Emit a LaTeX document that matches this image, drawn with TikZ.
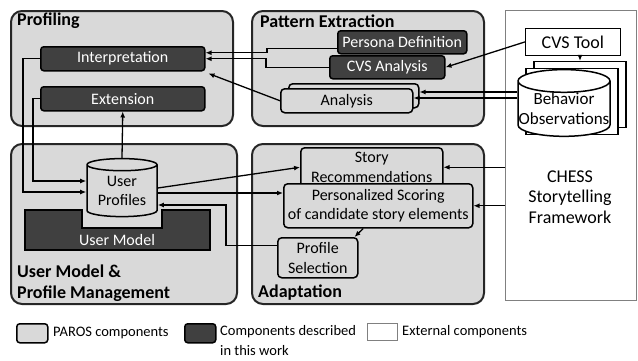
\documentclass[tikz,border=0pt]{standalone}
\usepackage{fontspec}
\setmainfont{Carlito}
\usetikzlibrary{shapes.geometric,arrows.meta,positioning}
\definecolor{panelgray}{RGB}{217,217,217}
\definecolor{darkbox}{RGB}{64,64,64}
\definecolor{extgray}{RGB}{128,128,128}

\begin{document}
\begin{tikzpicture}[x=1pt, y=-1pt,
  font=\fontsize{16}{19.5}\selectfont,
  panel/.style={draw=black!85, line width=2pt, fill=panelgray, rounded corners=11pt, anchor=north west, inner sep=0pt},
  ttl/.style={font=\fontsize{18}{21}\selectfont\bfseries, anchor=west, inner sep=0pt, align=left},
  dbox/.style={draw=black, line width=1.5pt, fill=darkbox, text=white, rounded corners=3pt, anchor=north west, inner sep=0pt},
  lbox/.style={draw=black, line width=1.5pt, fill=panelgray, rounded corners=4pt, anchor=north west, inner sep=0pt, align=center},
  ebox/.style={draw=extgray, line width=0.8pt, fill=white, anchor=north west, inner sep=0pt},
  store/.style={cylinder, shape border rotate=90, draw=black, line width=1.5pt, aspect=0.25, inner sep=0pt, align=center},
  lgd/.style={font=\fontsize{14.5}{20}\selectfont, anchor=west, inner sep=0pt, align=left},
  arr/.style={-{Latex[length=6pt,width=5pt]}, line width=1.3pt}
]
\useasboundingbox (0,0) rectangle (638,360);

%--- Panels ---
\node[panel, minimum width=222pt, minimum height=115pt] (prof) at (10,10) {};
\node[panel, minimum width=232pt, minimum height=115pt] (patt) at (251,10) {};
\node[panel, minimum width=226pt, minimum height=160pt] (umpm) at (10,143) {};
\node[panel, minimum width=232pt, minimum height=160pt] (adap) at (251,143) {};
\node[ebox, minimum width=131pt, minimum height=290pt] (chess) at (505,10) {};
\node[ttl] at (17,21) {Profiling};
\node[ttl] at (260,21) {Pattern Extraction};
\node[ttl] at (17,283) {User Model \&\\Profile Management};
\node[ttl] at (258,293) {Adaptation};
\node[font=\fontsize{18}{20.5}\selectfont, align=center] at (570,197) {CHESS\\Storytelling\\Framework};

%--- Profiling ---
\node[dbox, minimum width=164pt, minimum height=24pt] (interp) at (40,46) {Interpretation};
\node[dbox, minimum width=164pt, minimum height=24pt] (ext) at (40,86) {Extension};

%--- Pattern Extraction ---
\node[dbox, minimum width=129pt, minimum height=23pt] (persona) at (337,30) {Persona Definition};
\node[dbox, minimum width=115pt, minimum height=23pt] (cvsan) at (329,55) {CVS Analysis};
\node[lbox, minimum width=130pt, minimum height=24pt] (ana2) at (288,83) {};
\node[lbox, minimum width=132pt, minimum height=24pt] (ana) at (280,88) {Analysis};

%--- External ---
\node[ebox, draw=black, minimum width=95pt, minimum height=27pt, font=\fontsize{18}{20}\selectfont] (cvstool) at (525,28) {CVS Tool};
\node[store, fill=white, minimum width=92pt, minimum height=66pt] (obs3) at (580,95) {};
\node[store, fill=white, minimum width=92pt, minimum height=66pt] (obs2) at (572,102) {};
\node[store, fill=white, minimum width=92pt, minimum height=66pt, font=\fontsize{17}{20}\selectfont] (obs) at (564,109) {Behavior\\Observations};

%--- User Model & Profile Management ---
\draw[fill=darkbox, line width=1.5pt] (25,210) -- (82,210) -- (82,228) -- (162,228) -- (162,210) -- (210,210) -- (210,250) -- (25,250) -- cycle;
\node[text=white] (umodel) at (117,240) {User Model};
\node[store, fill=panelgray, minimum width=70pt, minimum height=58pt] (profiles) at (122,191) {User\\Profiles};

%--- Adaptation ---
\node[lbox, minimum width=142pt, minimum height=39pt] (story) at (300,147) {Story\\Recommendations};
\node[lbox, minimum width=189pt, minimum height=44pt] (scoring) at (283,183) {Personalized Scoring\\of candidate story elements};
\node[lbox, minimum width=80pt, minimum height=40pt] (psel) at (277,237) {Profile\\Selection};

%--- Connectors ---
\draw[arr] ([yshift=-6pt]persona.west) -- ++(-70,0) |- ([yshift=6pt]interp.east);
\draw[arr] (cvsan.west) -- ++(-63,0) |- (interp.east);
\draw[arr] (ana.west) -- ([xshift=3pt,yshift=-2pt]interp.south east);
\draw[arr] (cvstool.west) -- (cvsan.east);
\draw[arr] (cvstool.south -| obs3.north) -- (obs3.north);
\draw[arr] ([yshift=17pt]obs.west) -- ([yshift=17pt]obs.west -| ana2.east);
\draw[arr] ([yshift=11pt]obs.west) -- ([yshift=11pt]obs.west -| ana.east);
\draw[arr] (interp.west) -- ++(-17,0) |- ([yshift=-1pt]profiles.west);
\draw[arr] (ext.west) -- ++(-7,0) |- ([yshift=10pt]profiles.west);
\draw[arr] (profiles.north) -- (ext.south);
\draw[arr] ([yshift=3pt]profiles.east) -- (story.west);
\draw[arr] ([yshift=-2pt]profiles.east) -- ([yshift=-2pt]profiles.east -| scoring.west);
\draw[arr] ([yshift=12pt]psel.west) -- ++(-51,0) |- ([yshift=-14pt]profiles.east);
\draw[arr] ([xshift=-15pt]scoring.south) -- ([xshift=-4pt]psel.north east);
\draw[arr] (chess.west |- story.east) -- (story.east);
\draw[arr] (chess.west |- scoring.east) -- (scoring.east);

%--- Legend ---
\node[lbox, minimum width=31pt, minimum height=19pt, rounded corners=3pt] (lg1) at (16,323) {};
\node[lgd] at (53,333) {PAROS components};
\node[dbox, minimum width=31pt, minimum height=19pt] (lg2) at (184,323) {};
\node[lgd, anchor=north west] at (220,325) {Components described\\in this work};
\node[ebox, minimum width=30pt, minimum height=17pt] (lg3) at (367,323) {};
\node[lgd] at (402,332) {External components};
\end{tikzpicture}
\end{document}
